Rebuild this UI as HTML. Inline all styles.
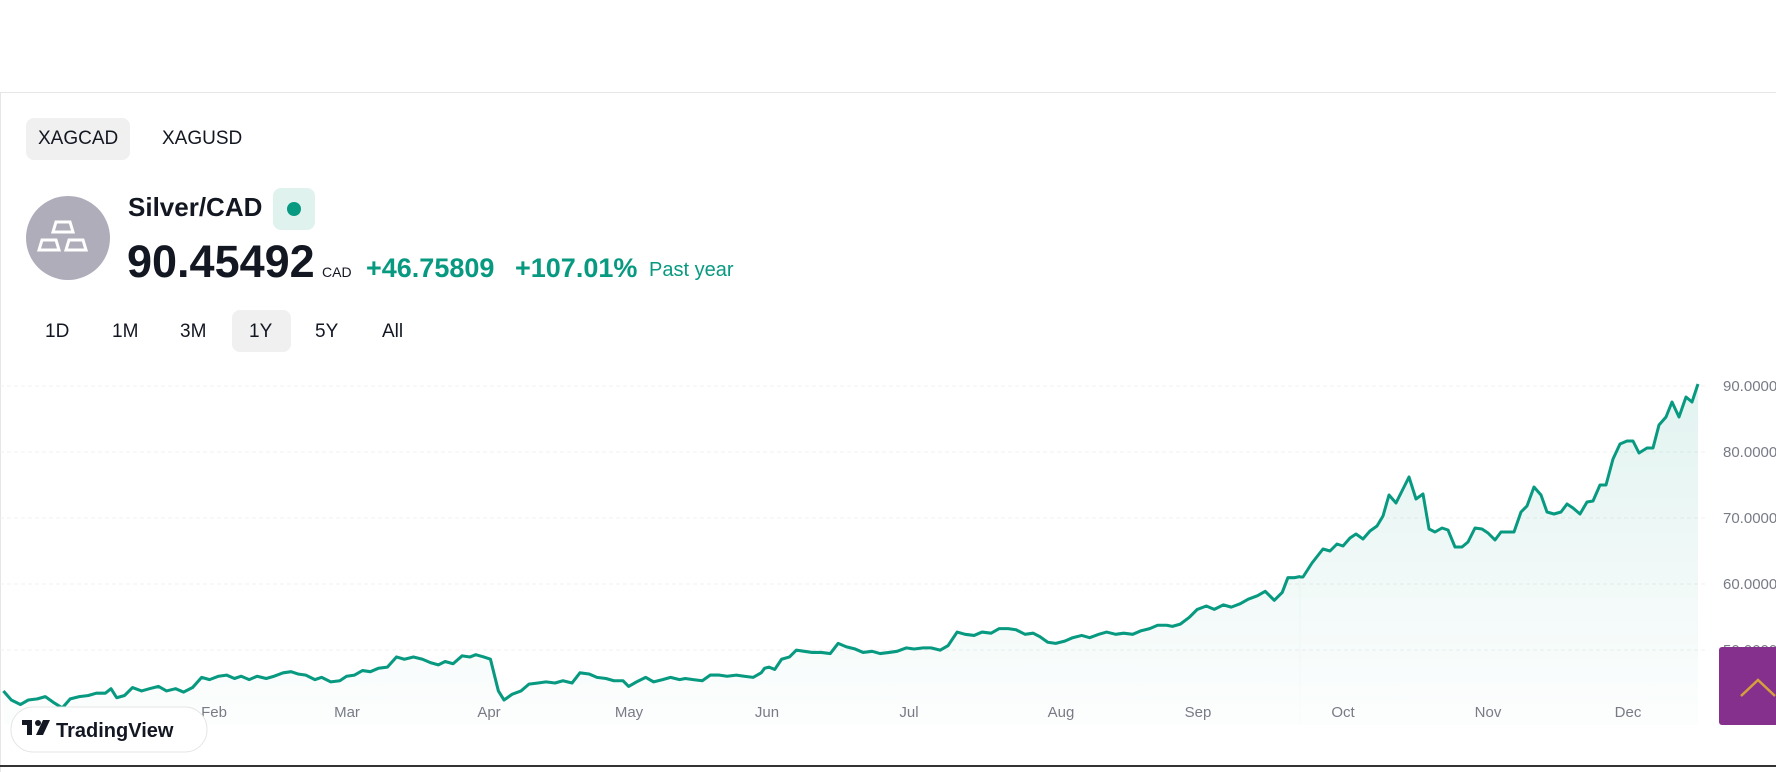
<!DOCTYPE html>
<html><head><meta charset="utf-8"><style>
html,body{margin:0;padding:0;width:1776px;height:772px;overflow:hidden;background:#fff;font-family:"Liberation Sans",sans-serif;}
.abs{position:absolute;}
</style></head><body>
<div class="abs" style="left:0;top:92px;width:1776px;height:1px;background:#e6e6e6;"></div>
<div class="abs" style="left:0;top:92px;width:1px;height:680px;background:#e6e6e6;"></div>
<div class="abs" style="left:26px;top:118px;width:104px;height:42px;background:#f0f0f0;border-radius:8px;"></div>
<div class="abs" style="left:38px;top:128px;font-size:19px;color:#131722;">XAGCAD</div>
<div class="abs" style="left:162px;top:128px;font-size:19px;color:#131722;">XAGUSD</div>
<svg class="abs" style="left:26px;top:196px" width="84" height="84" viewBox="0 0 84 84">
<circle cx="42" cy="42" r="42" fill="#b0adbb"/>
<g fill="none" stroke="#fff" stroke-width="3">
<path d="M30 26 h14 l3 10 h-20 z"/><path d="M16 44 h14 l3 10 h-20 z"/><path d="M43 44 h14 l3 10 h-20 z"/>
</g></svg>
<div class="abs" style="left:128px;top:192px;font-size:26px;font-weight:bold;color:#131722;">Silver/CAD</div>
<div class="abs" style="left:273px;top:188px;width:42px;height:42px;background:#dff2ee;border-radius:8px;"></div>
<div class="abs" style="left:287px;top:202px;width:14px;height:14px;background:#089981;border-radius:50%;"></div>
<div class="abs" style="left:127px;top:236px;font-size:45px;font-weight:bold;color:#131722;letter-spacing:0px;">90.45492</div>
<div class="abs" style="left:322px;top:264px;font-size:14px;color:#131722;">CAD</div>
<div class="abs" style="left:366px;top:253px;font-size:27px;font-weight:bold;color:#089981;">+46.75809</div>
<div class="abs" style="left:515px;top:253px;font-size:27px;font-weight:bold;color:#089981;">+107.01%</div>
<div class="abs" style="left:649px;top:259px;font-size:20px;color:#089981;">Past year</div>
<div class="abs" style="left:232px;top:310px;width:59px;height:42px;background:#f0f0f0;border-radius:8px;"></div>
<div class="abs" style="left:45px;top:321px;font-size:19px;color:#131722;">1D</div>
<div class="abs" style="left:112px;top:321px;font-size:19px;color:#131722;">1M</div>
<div class="abs" style="left:180px;top:321px;font-size:19px;color:#131722;">3M</div>
<div class="abs" style="left:249px;top:321px;font-size:19px;color:#131722;">1Y</div>
<div class="abs" style="left:315px;top:321px;font-size:19px;color:#131722;">5Y</div>
<div class="abs" style="left:382px;top:321px;font-size:19px;color:#131722;">All</div>
<svg class="abs" style="left:0;top:0" width="1776" height="772">
<defs><linearGradient id="g" x1="0" y1="380" x2="0" y2="725" gradientUnits="userSpaceOnUse">
<stop offset="0" stop-color="#089981" stop-opacity="0.12"/><stop offset="1" stop-color="#089981" stop-opacity="0.01"/></linearGradient>
<linearGradient id="g2" x1="0" y1="335.5" x2="0" y2="640" gradientUnits="userSpaceOnUse">
<stop offset="0" stop-color="#089981" stop-opacity="0.12"/><stop offset="1" stop-color="#089981" stop-opacity="0.01"/></linearGradient></defs>
<g stroke="#f0f0f0" stroke-width="1" stroke-dasharray="4 3">
<line x1="0" x2="1705" y1="386" y2="386"/><line x1="0" x2="1705" y1="452" y2="452"/><line x1="0" x2="1705" y1="518" y2="518"/><line x1="0" x2="1705" y1="584" y2="584"/><line x1="0" x2="1705" y1="650" y2="650"/>
</g>
<g transform="scale(1.1327)">
<polygon fill="url(#g2)" stroke="none" points="3,640 3,610 10,618 18,622 25,618 33,617 40,615 47,620 55,625 62,617 70,615 78,614 85,612 93,612 98,608 103,616 110,614 117,607 125,610 132,608 140,606 147,610 155,608 162,611 170,607 178,598 185,600 193,597 200,596 207,599 213,597 220,600 227,597 235,599 242,597 250,594 257,593 263,595 270,596 278,600 284,598 292,602 300,601 306,597 313,596 320,592 327,593 334,590 342,589 350,580 357,582 365,580 373,582 380,585 387,587 393,584 400,586 408,579 415,580 420,578 427,580 433,582 440,610 445,618 452,613 460,610 467,604 475,603 482,602 490,603 497,601 505,603 512,594 520,595 527,598 535,599 542,601 550,601 555,606 562,602 570,598 577,602 585,600 592,598 600,600 605,599 612,600 620,601 627,596 635,596 642,597 650,596 657,597 665,598 672,594 675,590 679,589 684,591 690,582 697,580 703,574 710,575 717,576 725,576 733,577 740,568 747,571 755,573 762,576 770,575 777,577 785,576 792,575 800,572 807,573 815,572 822,572 830,574 837,570 845,558 852,560 860,561 867,558 875,559 882,555 890,555 897,556 905,560 912,559 918,562 925,567 932,568 940,566 947,563 955,561 962,563 970,560 977,558 985,560 992,559 1000,560 1007,557 1015,555 1022,552 1030,552 1035,553 1042,551 1050,545 1057,538 1065,535 1072,538 1080,534 1087,536 1095,533 1102,529 1110,526 1117,522 1125,530 1132,523 1137,510 1143,510 1148,509 1148.5,640"/>
<polyline fill="none" stroke="#089981" stroke-width="2.7" stroke-linejoin="round" points="3,610 10,618 18,622 25,618 33,617 40,615 47,620 55,625 62,617 70,615 78,614 85,612 93,612 98,608 103,616 110,614 117,607 125,610 132,608 140,606 147,610 155,608 162,611 170,607 178,598 185,600 193,597 200,596 207,599 213,597 220,600 227,597 235,599 242,597 250,594 257,593 263,595 270,596 278,600 284,598 292,602 300,601 306,597 313,596 320,592 327,593 334,590 342,589 350,580 357,582 365,580 373,582 380,585 387,587 393,584 400,586 408,579 415,580 420,578 427,580 433,582 440,610 445,618 452,613 460,610 467,604 475,603 482,602 490,603 497,601 505,603 512,594 520,595 527,598 535,599 542,601 550,601 555,606 562,602 570,598 577,602 585,600 592,598 600,600 605,599 612,600 620,601 627,596 635,596 642,597 650,596 657,597 665,598 672,594 675,590 679,589 684,591 690,582 697,580 703,574 710,575 717,576 725,576 733,577 740,568 747,571 755,573 762,576 770,575 777,577 785,576 792,575 800,572 807,573 815,572 822,572 830,574 837,570 845,558 852,560 860,561 867,558 875,559 882,555 890,555 897,556 905,560 912,559 918,562 925,567 932,568 940,566 947,563 955,561 962,563 970,560 977,558 985,560 992,559 1000,560 1007,557 1015,555 1022,552 1030,552 1035,553 1042,551 1050,545 1057,538 1065,535 1072,538 1080,534 1087,536 1095,533 1102,529 1110,526 1117,522 1125,530 1132,523 1137,510 1143,510 1148,509"/>
</g>
<polygon fill="url(#g)" points="1299.5,725 1299.5,577 1303,577 1312,563 1323,549 1330,551 1337,544 1343,546 1350,538 1356,534 1363,539 1370,531 1377,526 1383,516 1389,495 1396,503 1403,489 1409,477 1416,499 1423,494 1429,529 1435,532 1442,528 1448,530 1455,547 1462,547 1468,542 1475,528 1482,529 1488,533 1495,540 1501,532 1507,532 1514,532 1521,512 1527,506 1534,487 1541,495 1547,512 1554,514 1561,512 1567,504 1573,508 1580,514 1587,502 1593,501 1600,485 1606,485 1613,459 1620,444 1627,441 1633,441 1639,453 1647,448 1653,448 1659,425 1666,417 1672,402 1679,417 1686,397 1692,402 1698,384 1698,725"/>
<polyline fill="none" stroke="#089981" stroke-width="3" stroke-linejoin="round" points="1300,577 1303,577 1312,563 1323,549 1330,551 1337,544 1343,546 1350,538 1356,534 1363,539 1370,531 1377,526 1383,516 1389,495 1396,503 1403,489 1409,477 1416,499 1423,494 1429,529 1435,532 1442,528 1448,530 1455,547 1462,547 1468,542 1475,528 1482,529 1488,533 1495,540 1501,532 1507,532 1514,532 1521,512 1527,506 1534,487 1541,495 1547,512 1554,514 1561,512 1567,504 1573,508 1580,514 1587,502 1593,501 1600,485 1606,485 1613,459 1620,444 1627,441 1633,441 1639,453 1647,448 1653,448 1659,425 1666,417 1672,402 1679,417 1686,397 1692,402 1698,384"/>
<g font-family="Liberation Sans, sans-serif" font-size="15" fill="#787b86">
<text x="1723" y="391">90.0000</text><text x="1723" y="457">80.0000</text><text x="1723" y="523">70.0000</text><text x="1723" y="589">60.0000</text><text x="1723" y="655">50.0000</text>
<g font-size="15" text-anchor="middle"><text x="214" y="717">Feb</text><text x="347" y="717">Mar</text><text x="489" y="717">Apr</text><text x="629" y="717">May</text><text x="767" y="717">Jun</text><text x="909" y="717">Jul</text><text x="1061" y="717">Aug</text><text x="1198" y="717">Sep</text><text x="1343" y="717">Oct</text><text x="1488" y="717">Nov</text><text x="1628" y="717">Dec</text></g>
</g>
<rect x="1719" y="647" width="60" height="78" rx="3" fill="#86308e"/>
<polyline points="1741,696 1758,680 1775,696" fill="none" stroke="#d4a03c" stroke-width="2.5"/>
<rect x="11" y="707" width="196" height="45" rx="22" fill="#fff" stroke="#e6e6e6"/>
<g fill="#131722"><rect x="22" y="720" width="10" height="5"/><rect x="27" y="720" width="5" height="15"/><circle cx="38" cy="723" r="3"/><path d="M43 720 h7 l-7 15 h-7 z"/></g>
<text x="56" y="737" font-family="Liberation Sans, sans-serif" font-size="20" font-weight="bold" fill="#131722">TradingView</text>
<rect x="0" y="765" width="1776" height="2" fill="#333"/>
</svg>
</body></html>
